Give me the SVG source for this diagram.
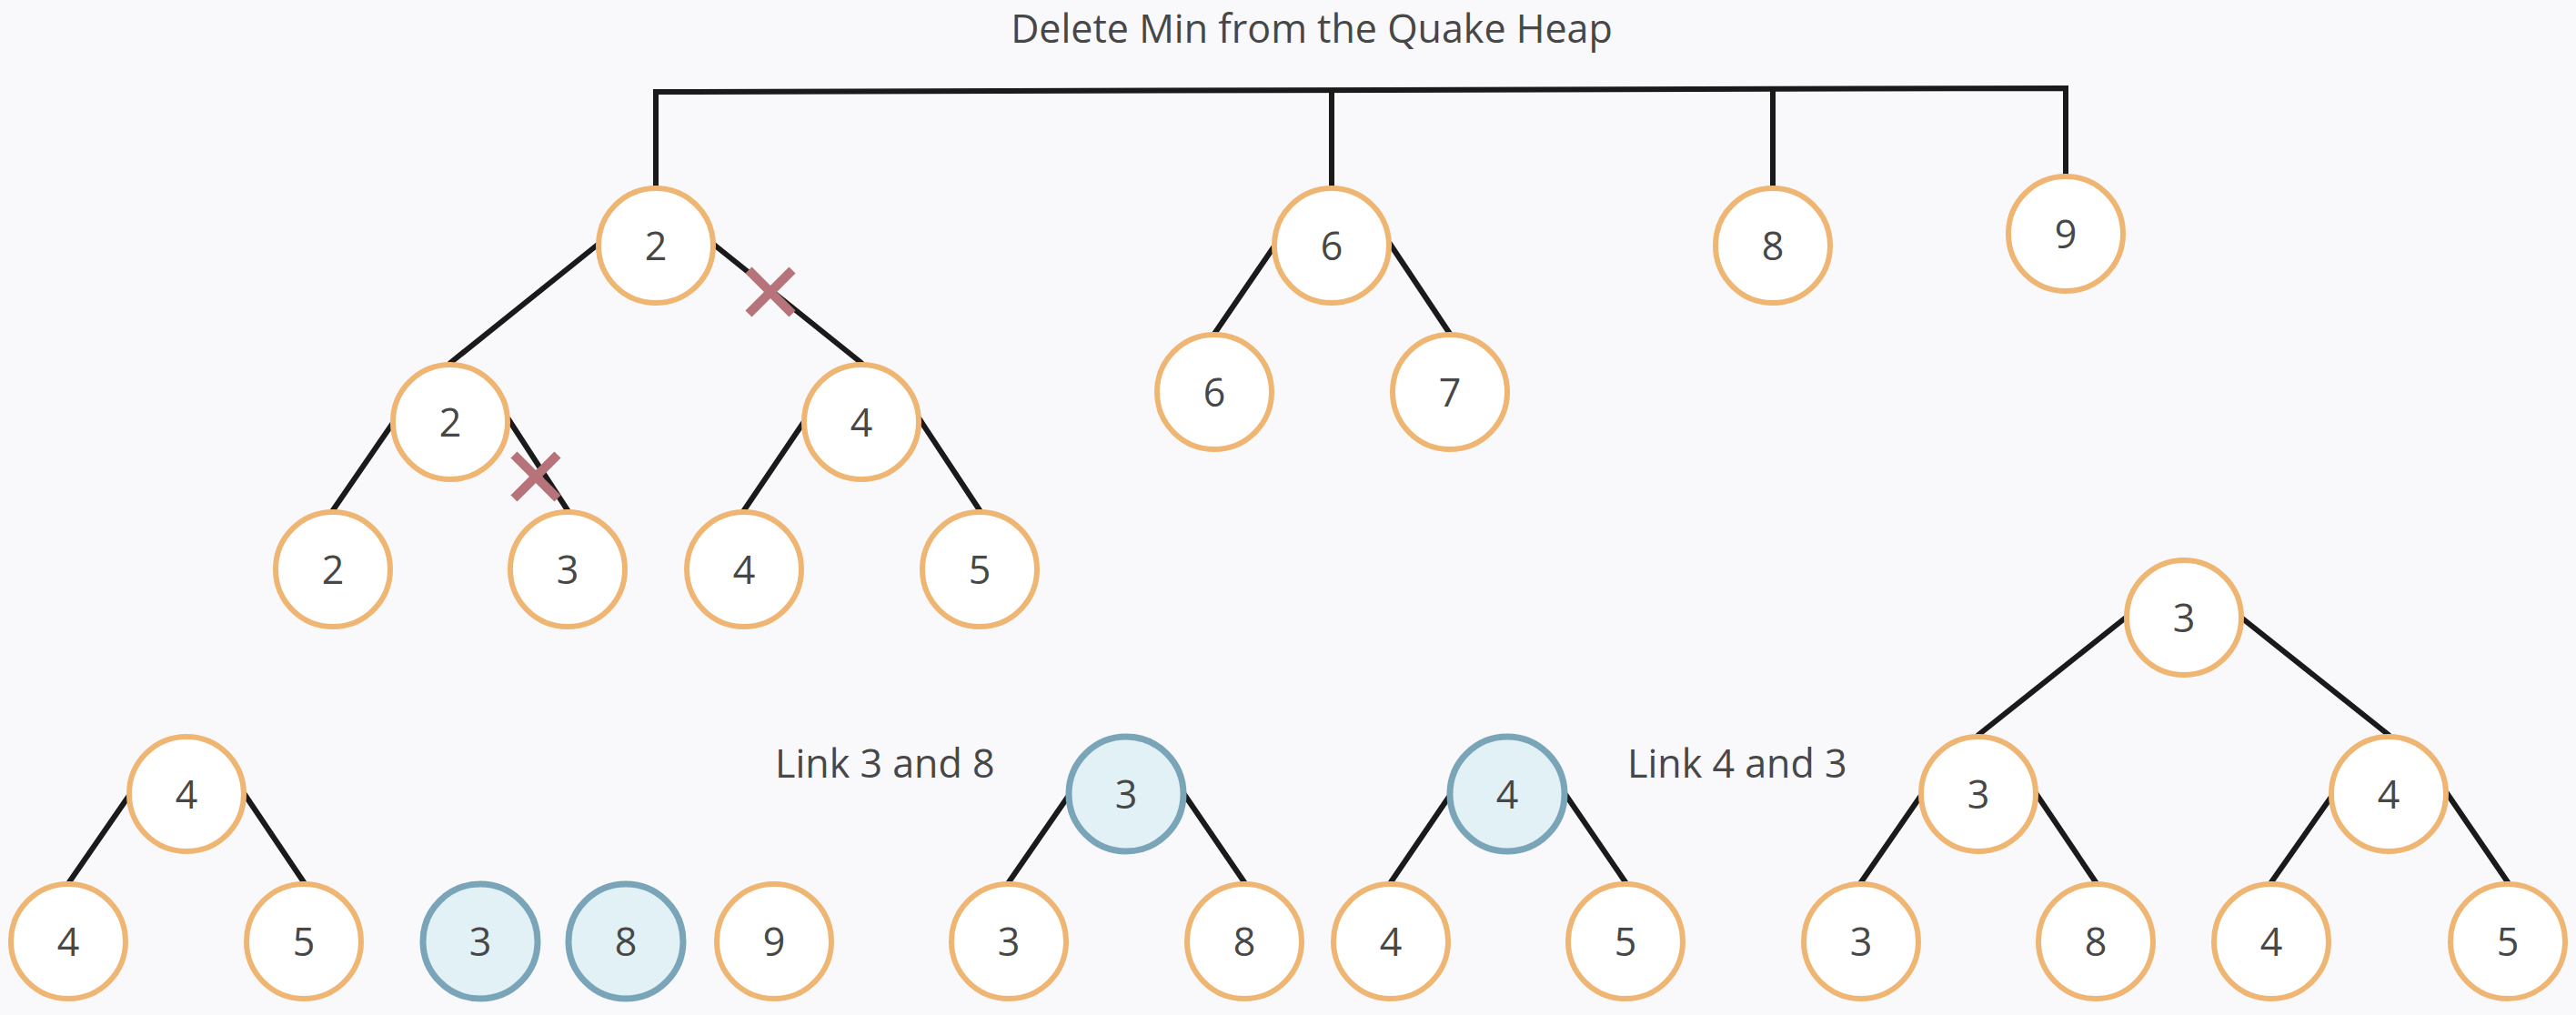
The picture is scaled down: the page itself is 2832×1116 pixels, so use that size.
<svg xmlns="http://www.w3.org/2000/svg" width="2832" height="1116" viewBox="0 0 2832 1116">
<style>
.bg{fill:#f9f9fb}
.n circle{fill:#ffffff;stroke:#eeb672;stroke-width:6}
.n.b circle{fill:#e2f1f5;stroke:#7aa5b8;stroke-width:7}
.n text,.lbl{font-family:"Open Sans","Liberation Sans",sans-serif;font-size:43px;fill:#474747}
.n text{text-anchor:middle}
.e path{fill:none;stroke:#1a1a1a;stroke-width:6;stroke-linecap:round;stroke-linejoin:miter}
.x line{stroke:#b7737a;stroke-width:10;stroke-linecap:butt}
</style>
<rect class="bg" x="0" y="0" width="2832" height="1116"/>
<text class="lbl" x="1442" y="47" text-anchor="middle">Delete Min from the Quake Heap</text>
<text class="lbl" x="852" y="855">Link 3 and 8</text>
<text class="lbl" x="1789" y="855">Link 4 and 3</text>
<g id="connectors" class="e">
<path d="M721 204 V101 L2271 97 V191"/>
<path d="M1464 204 V100"/>
<path d="M1949 204 V99"/>
<path d="M657 269 L495 399"/>
<path d="M785 269 L947 399"/>
<path d="M432 465 L366 561"/>
<path d="M559 461 L624 561"/>
<path d="M883 465 L818 561"/>
<path d="M1011 461 L1077 561"/>
<path d="M1400 272 L1335 367"/>
<path d="M1528 268 L1594 367"/>
<path d="M141 876 L76 970"/>
<path d="M268 872 L334 970"/>
<path d="M1174 876 L1109 970"/>
<path d="M1301 872 L1368 970"/>
<path d="M1593 876 L1529 970"/>
<path d="M1720 872 L1787 970"/>
<path d="M2337 679 L2175 808"/>
<path d="M2464 679 L2626 808"/>
<path d="M2111 876 L2046 970"/>
<path d="M2238 872 L2304 970"/>
<path d="M2563 876 L2497 970"/>
<path d="M2690 872 L2757 970"/>
</g>
<g id="cuts" class="x">
<line x1="823" y1="297" x2="871" y2="345"/><line x1="871" y1="297" x2="823" y2="345"/>
<line x1="565" y1="500" x2="613" y2="548"/><line x1="613" y1="500" x2="565" y2="548"/>
</g>
<g id="t_root2" class="n"><circle cx="721" cy="270" r="63"/><text x="721" y="286">2</text></g>
<g id="t_2b" class="n"><circle cx="495" cy="464" r="63"/><text x="495" y="480">2</text></g>
<g id="t_4b" class="n"><circle cx="947" cy="464" r="63"/><text x="947" y="480">4</text></g>
<g id="t_2c" class="n"><circle cx="366" cy="626" r="63"/><text x="366" y="642">2</text></g>
<g id="t_3c" class="n"><circle cx="624" cy="626" r="63"/><text x="624" y="642">3</text></g>
<g id="t_4c" class="n"><circle cx="818" cy="626" r="63"/><text x="818" y="642">4</text></g>
<g id="t_5c" class="n"><circle cx="1077" cy="626" r="63"/><text x="1077" y="642">5</text></g>
<g id="t_root6" class="n"><circle cx="1464" cy="270" r="63"/><text x="1464" y="286">6</text></g>
<g id="t_6b" class="n"><circle cx="1335" cy="431" r="63"/><text x="1335" y="447">6</text></g>
<g id="t_7b" class="n"><circle cx="1594" cy="431" r="63"/><text x="1594" y="447">7</text></g>
<g id="t_root8" class="n"><circle cx="1949" cy="270" r="63"/><text x="1949" y="286">8</text></g>
<g id="t_root9" class="n"><circle cx="2271" cy="257" r="63"/><text x="2271" y="273">9</text></g>
<g id="a_4p" class="n"><circle cx="205" cy="873" r="63"/><text x="205" y="889">4</text></g>
<g id="a_4" class="n"><circle cx="75" cy="1035" r="63"/><text x="75" y="1051">4</text></g>
<g id="a_5" class="n"><circle cx="334" cy="1035" r="63"/><text x="334" y="1051">5</text></g>
<g id="a_3" class="n b"><circle cx="528" cy="1035" r="63"/><text x="528" y="1051">3</text></g>
<g id="a_8" class="n b"><circle cx="688" cy="1035" r="63"/><text x="688" y="1051">8</text></g>
<g id="a_9" class="n"><circle cx="851" cy="1035" r="63"/><text x="851" y="1051">9</text></g>
<g id="b_3p" class="n b"><circle cx="1238" cy="873" r="63"/><text x="1238" y="889">3</text></g>
<g id="b_3" class="n"><circle cx="1109" cy="1035" r="63"/><text x="1109" y="1051">3</text></g>
<g id="b_8" class="n"><circle cx="1368" cy="1035" r="63"/><text x="1368" y="1051">8</text></g>
<g id="c_4p" class="n b"><circle cx="1657" cy="873" r="63"/><text x="1657" y="889">4</text></g>
<g id="c_4" class="n"><circle cx="1529" cy="1035" r="63"/><text x="1529" y="1051">4</text></g>
<g id="c_5" class="n"><circle cx="1787" cy="1035" r="63"/><text x="1787" y="1051">5</text></g>
<g id="d_3r" class="n"><circle cx="2401" cy="679" r="63"/><text x="2401" y="695">3</text></g>
<g id="d_3" class="n"><circle cx="2175" cy="873" r="63"/><text x="2175" y="889">3</text></g>
<g id="d_4" class="n"><circle cx="2626" cy="873" r="63"/><text x="2626" y="889">4</text></g>
<g id="d_3l" class="n"><circle cx="2046" cy="1035" r="63"/><text x="2046" y="1051">3</text></g>
<g id="d_8l" class="n"><circle cx="2304" cy="1035" r="63"/><text x="2304" y="1051">8</text></g>
<g id="d_4l" class="n"><circle cx="2497" cy="1035" r="63"/><text x="2497" y="1051">4</text></g>
<g id="d_5l" class="n"><circle cx="2757" cy="1035" r="63"/><text x="2757" y="1051">5</text></g>
</svg>
